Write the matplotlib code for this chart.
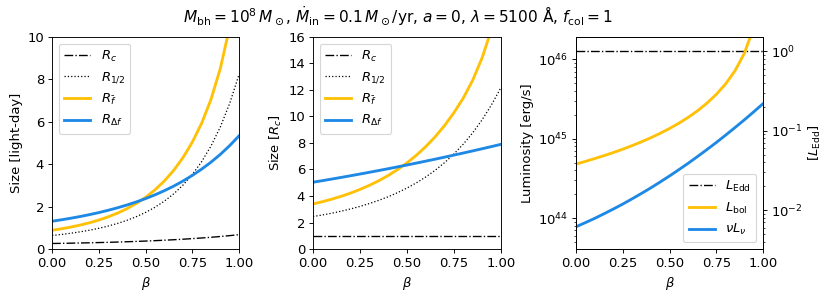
import numpy as np
import matplotlib
matplotlib.use("Agg")
import matplotlib.pyplot as plt

# ---- data ----
beta = [0.0, 0.05, 0.1, 0.15, 0.2, 0.25, 0.3, 0.35, 0.4, 0.45, 0.5,
        0.55, 0.6, 0.65, 0.7, 0.75, 0.8, 0.85, 0.9, 0.95, 1.0]

# panel 1: sizes in light-days
rc_ld = [0.260, 0.267, 0.275, 0.284, 0.293, 0.304, 0.315, 0.328, 0.342, 0.358, 0.375,
         0.394, 0.414, 0.437, 0.462, 0.490, 0.520, 0.553, 0.590, 0.631, 0.676]
rhalf_ld = [0.637, 0.686, 0.743, 0.809, 0.886, 0.976, 1.082, 1.205, 1.350, 1.522, 1.725,
            1.966, 2.254, 2.597, 3.012, 3.512, 4.119, 4.857, 5.757, 6.868, 8.237]
rfbar_ld = [0.884, 0.953, 1.034, 1.127, 1.237, 1.365, 1.515, 1.692, 1.899, 2.146, 2.437,
            2.786, 3.203, 3.703, 4.308, 5.038, 5.931, 7.053, 8.520, 10.466, 13.05]
rdf_ld = [1.310, 1.377, 1.451, 1.532, 1.621, 1.718, 1.825, 1.944, 2.074, 2.218, 2.377,
          2.553, 2.748, 2.963, 3.204, 3.470, 3.767, 4.096, 4.463, 4.877, 5.338]

# panel 2: sizes in units of R_c
rc_rc = [1.0] * 21
rhalf_rc = [2.450, 2.569, 2.702, 2.854, 3.024, 3.215, 3.432, 3.672, 3.943, 4.252, 4.602,
            4.993, 5.438, 5.943, 6.518, 7.174, 7.922, 8.779, 9.761, 10.89, 12.19]
rfbar_rc = [3.401, 3.570, 3.763, 3.977, 4.220, 4.495, 4.805, 5.154, 5.548, 5.995, 6.501,
            7.076, 7.729, 8.473, 9.322, 10.293, 11.406, 12.749, 14.445, 16.594, 19.32]
rdf_rc = [5.040, 5.158, 5.279, 5.403, 5.529, 5.658, 5.789, 5.923, 6.059, 6.198, 6.340,
          6.484, 6.631, 6.781, 6.933, 7.088, 7.245, 7.405, 7.567, 7.732, 7.900]

# panel 3: luminosities (log10 erg/s)
log_lbol = [44.680, 44.713, 44.749, 44.786, 44.825, 44.867, 44.912, 44.960, 45.011, 45.067, 45.127,
            45.194, 45.268, 45.351, 45.446, 45.557, 45.689, 45.854, 46.073, 46.400, 47.06]
log_nulnu = [43.890, 43.942, 43.996, 44.054, 44.114, 44.176, 44.242, 44.310, 44.380, 44.454, 44.530,
             44.609, 44.690, 44.775, 44.862, 44.951, 45.044, 45.139, 45.236, 45.337, 45.440]
L_edd = 1.26e46

xticks = [0.0, 0.25, 0.5, 0.75, 1.0]
xticklabels = ["0.00", "0.25", "0.50", "0.75", "1.00"]

title = (r"$M_{\rm bh}=10^8\,M_\odot$, $\dot{M}_{\rm in}=0.1\,M_\odot$/yr, "
         r"$a=0$, $\lambda=5100$ Å, $f_{\rm col}=1$")

orange = "#FFC107"
blue = "#1E88E5"

plt.rcParams["font.size"] = 11.5
plt.rcParams["mathtext.fontset"] = "dejavusans"

fig = plt.figure(figsize=(830 / 82, 299 / 82), dpi=82)
ax1 = fig.add_axes([0.0627, 0.1672, 0.2253, 0.7091])
ax2 = fig.add_axes([0.3771, 0.1672, 0.2265, 0.7091])
ax3 = fig.add_axes([0.6940, 0.1672, 0.2253, 0.7091])

b = np.array(beta)

def size_panel(ax, rc, rh, rf, rd, ylim, yticks, ylabel):
    ax.plot(b, rc, color="k", ls="-.", lw=1.2, label=r"$R_c$")
    ax.plot(b, rh, color="k", ls=":", lw=1.1, label=r"$R_{1/2}$")
    ax.plot(b, rf, color=orange, lw=2.5, label=r"$R_{\bar{f}}$")
    ax.plot(b, rd, color=blue, lw=2.5, label=r"$R_{\Delta f}$")
    ax.set_xlim(0, 1)
    ax.set_ylim(*ylim)
    ax.set_yticks(yticks)
    ax.set_xticks(xticks)
    ax.set_xticklabels(xticklabels)
    ax.set_xlabel(r"$\beta$")
    ax.set_ylabel(ylabel)
    ax.legend(loc="upper left")

size_panel(ax1, rc_ld, rhalf_ld, rfbar_ld, rdf_ld, (0, 10), [0, 2, 4, 6, 8, 10], "Size [light-day]")
size_panel(ax2, rc_rc, rhalf_rc, rfbar_rc, rdf_rc, (0, 16), list(range(0, 17, 2)), r"Size [$R_c$]")

lbol = 10 ** np.array(log_lbol)
nulnu = 10 ** np.array(log_nulnu)
ax3.axhline(L_edd, color="k", ls="-.", lw=1.2, label=r"$L_{\rm Edd}$")
ax3.plot(b, lbol, color=orange, lw=2.5, label=r"$L_{\rm bol}$")
ax3.plot(b, nulnu, color=blue, lw=2.5, label=r"$\nu L_\nu$")
ax3.set_yscale("log")
ylo, yhi = 10 ** 43.61, 10 ** 46.28
ax3.set_ylim(ylo, yhi)
ax3.set_xlim(0, 1)
ax3.set_xticks(xticks)
ax3.set_xticklabels(xticklabels)
ax3.set_xlabel(r"$\beta$")
ax3.set_ylabel("Luminosity [erg/s]")
ax3.legend(loc="lower right")

ax3r = ax3.twinx()
ax3r.set_yscale("log")
ax3r.set_ylim(ylo / L_edd, yhi / L_edd)
ax3r.set_ylabel(r"[$L_{\rm Edd}$]")

fig.text(398 / 830, 1 - 16 / 299, title, ha="center", va="center", fontsize=13.5)

fig.savefig("out.png", dpi=82)
